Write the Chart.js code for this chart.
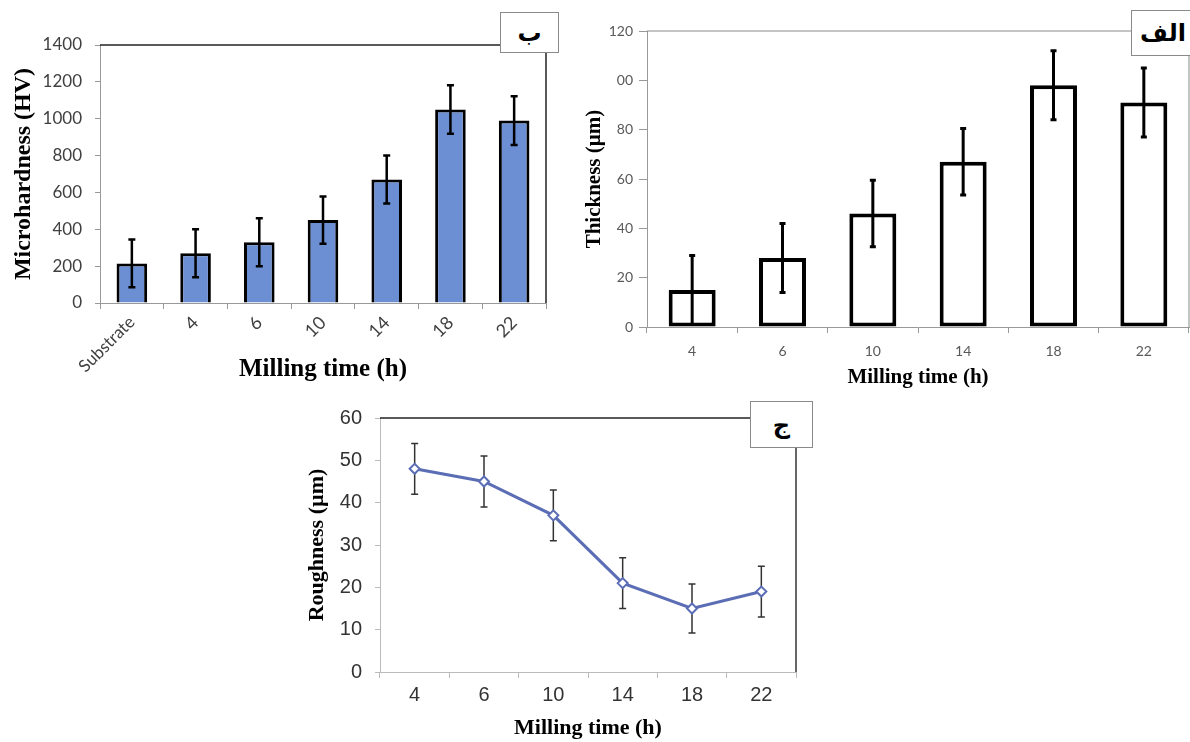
<!DOCTYPE html>
<html>
<head>
<meta charset="utf-8">
<script src="https://cdn.jsdelivr.net/npm/chart.js@4/dist/chart.umd.min.js"></script>
<style>
  body { margin: 0; background: #fff; }
  #wrap { position: relative; width: 1190px; height: 742px; overflow: hidden; }
  canvas { position: absolute; }
  .tag {
    position: absolute; background: #fff; border: 1px solid #8a8a8a;
    font-family: "DejaVu Sans", sans-serif; font-weight: bold; font-size: 24px;
    display: flex; align-items: center; justify-content: center; color: #000;
  }
</style>
</head>
<body>
<div id="wrap">
  <canvas id="hardness" width="570" height="390" style="left:0;top:0"></canvas>
  <canvas id="thickness" width="610" height="390" style="left:580px;top:0"></canvas>
  <canvas id="rough" width="540" height="352" style="left:290px;top:390px"></canvas>
  <div class="tag" style="left:500px;top:12px;width:57px;height:39px">ب</div>
  <div class="tag" style="left:1131px;top:10px;width:62px;height:44px">الف</div>
  <div class="tag" style="left:750px;top:401px;width:61px;height:45px">ج</div>
</div>
<script>
// chart ب : microhardness
const hardnessLabels = ["Substrate", "4", "6", "10", "14", "18", "22"];
const hardnessValues = [215, 270, 330, 450, 670, 1050, 990];
const hardnessErrors = [130, 130, 130, 128, 130, 132, 132];
const hardnessTickLabels = ["0", "200", "400", "600", "800", "1000", "1200", "1400"];

// chart الف : thickness
const thickLabels = ["4", "6", "10", "14", "18", "22"];
const thickValues = [15, 28, 46, 67, 98, 91];
const thickErrors = [14, 14, 13.5, 13.5, 14, 14];
const thickTickLabels = ["0", "20", "40", "60", "80", "00", "120"];

// chart ج : roughness
const roughLabels = ["4", "6", "10", "14", "18", "22"];
const roughValues = [48, 45, 37, 21, 15, 19];
const roughErrors = [6, 6, 6, 6, 5.8, 6];

const serifBold = size => ({ family: "Liberation Serif", weight: "bold", size: size });

// error bars, drawn from the y scale of each chart
const errorBars = {
  id: "errorBars",
  draw(chart, o) {
    const { ctx } = chart;
    const y = chart.scales.y;
    const meta = chart.getDatasetMeta(0);
    const vals = chart.data.datasets[0].data;
    ctx.save();
    ctx.strokeStyle = o.color;
    ctx.lineWidth = o.width;
    meta.data.forEach((el, i) => {
      const top = y.getPixelForValue(vals[i] + o.errors[i]);
      const bot = y.getPixelForValue(vals[i] - o.errors[i]);
      ctx.beginPath();
      ctx.moveTo(el.x, top); ctx.lineTo(el.x, bot);
      ctx.moveTo(el.x - o.cap, top); ctx.lineTo(el.x + o.cap, top);
      ctx.moveTo(el.x - o.cap, bot); ctx.lineTo(el.x + o.cap, bot);
      ctx.stroke();
    });
    ctx.restore();
  },
  beforeDatasetsDraw(chart, args, o) { if (o.under) this.draw(chart, o); },
  afterDatasetsDraw(chart, args, o) { if (!o.under) this.draw(chart, o); }
};

// top line up to the tag box, right line down from it
const frame = {
  id: "frame",
  afterDraw(chart, args, o) {
    const { ctx, chartArea: a } = chart;
    ctx.save();
    ctx.lineWidth = o.width;
    ctx.strokeStyle = o.topColor;
    ctx.beginPath();
    ctx.moveTo(a.left, a.top); ctx.lineTo(o.boxLeft, a.top);
    ctx.stroke();
    ctx.strokeStyle = o.rightColor;
    ctx.beginPath();
    ctx.moveTo(a.right, o.boxBottom); ctx.lineTo(a.right, a.bottom);
    ctx.stroke();
    ctx.restore();
  }
};

Chart.register(errorBars, frame);

new Chart(document.getElementById("hardness"), {
  type: "bar",
  data: {
    labels: hardnessLabels,
    datasets: [{
      data: hardnessValues,
      backgroundColor: "#6b8fd2",
      borderColor: "#000",
      borderWidth: 3,
      barPercentage: 0.48,
      categoryPercentage: 1
    }]
  },
  options: {
    responsive: false,
    animation: false,
    layout: { padding: { top: 45, right: 24, left: 0, bottom: 0 } },
    plugins: {
      legend: { display: false },
      tooltip: { enabled: false },
      errorBars: { errors: hardnessErrors, color: "#000", width: 2.5, cap: 3.5 },
      frame: { boxLeft: 500, boxBottom: 52, width: 1.5, topColor: "#222", rightColor: "#222" }
    },
    scales: {
      y: {
        min: 0, max: 1400,
        afterFit: s => { s.width = 100; },
        ticks: {
          stepSize: 200, font: { family: "Lato", size: 17 }, color: "#404040", padding: 13,
          callback: (v, i) => hardnessTickLabels[i]
        },
        grid: { drawOnChartArea: false, tickLength: 5, color: "#999" },
        border: { color: "#999" },
        title: { display: true, text: "Microhardness (HV)", font: serifBold(24), color: "#000", padding: { top: 9 } }
      },
      x: {
        afterFit: s => { s.height = 87; },
        ticks: {
          minRotation: 45, maxRotation: 45, color: "#404040", padding: 3,
          font: c => (c.index === 0 ? { family: "Lato", size: 17 } : { family: "Lato", size: 18 })
        },
        grid: { offset: true, drawOnChartArea: false, tickLength: 6, color: "#999" },
        border: { color: "#999" },
        title: { display: true, text: "Milling time (h)", font: serifBold(25), color: "#000", padding: { bottom: 5 } }
      }
    }
  }
});

new Chart(document.getElementById("thickness"), {
  type: "bar",
  data: {
    labels: thickLabels,
    datasets: [{
      data: thickValues,
      backgroundColor: "#fff",
      borderColor: "#000",
      borderWidth: 4,
      borderSkipped: false,
      barPercentage: 0.52,
      categoryPercentage: 1
    }]
  },
  options: {
    responsive: false,
    animation: false,
    layout: { padding: { top: 31, right: 1, left: 0, bottom: 0 } },
    plugins: {
      legend: { display: false },
      tooltip: { enabled: false },
      errorBars: { errors: thickErrors, color: "#000", width: 3, cap: 3 },
      frame: { boxLeft: 551, boxBottom: 55, width: 1, topColor: "#8a8a8a", rightColor: "#8a8a8a" }
    },
    scales: {
      y: {
        min: 0, max: 120,
        afterFit: s => { s.width = 67; },
        ticks: {
          stepSize: 20, font: { family: "Lato", size: 14 }, color: "#595959", padding: 6,
          callback: (v, i) => thickTickLabels[i]
        },
        grid: { drawOnChartArea: false, tickLength: 8, color: "#999" },
        border: { color: "#999" },
        title: { display: true, text: "Thickness (µm)", font: serifBold(21), color: "#000", padding: { top: 2 } }
      },
      x: {
        afterFit: s => { s.height = 63; },
        ticks: { font: { family: "Lato", size: 14 }, color: "#595959", padding: 10 },
        grid: { offset: true, drawOnChartArea: false, tickLength: 6, color: "#999" },
        border: { color: "#999" },
        title: { display: true, text: "Milling time (h)", font: serifBold(21), color: "#000", padding: { bottom: 0 } }
      }
    }
  }
});

new Chart(document.getElementById("rough"), {
  type: "line",
  data: {
    labels: roughLabels,
    datasets: [{
      data: roughValues,
      borderColor: "#5b6db5",
      borderWidth: 3,
      tension: 0,
      pointStyle: "rectRot",
      pointRadius: 5,
      pointBackgroundColor: "#fff",
      pointBorderColor: "#5b6db5",
      pointBorderWidth: 2
    }]
  },
  options: {
    responsive: false,
    animation: false,
    layout: { padding: { top: 28, right: 34, left: 0, bottom: 0 } },
    plugins: {
      legend: { display: false },
      tooltip: { enabled: false },
      errorBars: { errors: roughErrors, color: "#333", width: 1.5, cap: 3.5, under: true },
      frame: { boxLeft: 460, boxBottom: 57, width: 1.5, topColor: "#222", rightColor: "#333" }
    },
    scales: {
      y: {
        min: 0, max: 60,
        afterFit: s => { s.width = 90; },
        ticks: { stepSize: 10, font: { family: "Liberation Sans", size: 20 }, color: "#333", padding: 13 },
        grid: { drawOnChartArea: false, tickLength: 5, color: "#bbb" },
        border: { color: "#bbb" },
        title: { display: true, text: "Roughness (µm)", font: serifBold(22), color: "#000", padding: { top: 14 } }
      },
      x: {
        offset: true,
        afterFit: s => { s.height = 70; },
        ticks: { font: { family: "Liberation Sans", size: 20 }, color: "#333", padding: 5 },
        grid: { offset: true, drawOnChartArea: false, tickLength: 6, color: "#bbb" },
        border: { color: "#bbb" },
        title: { display: true, text: "Milling time (h)", font: serifBold(22), color: "#000", padding: { bottom: 0 } }
      }
    }
  }
});
</script>
</body>
</html>
